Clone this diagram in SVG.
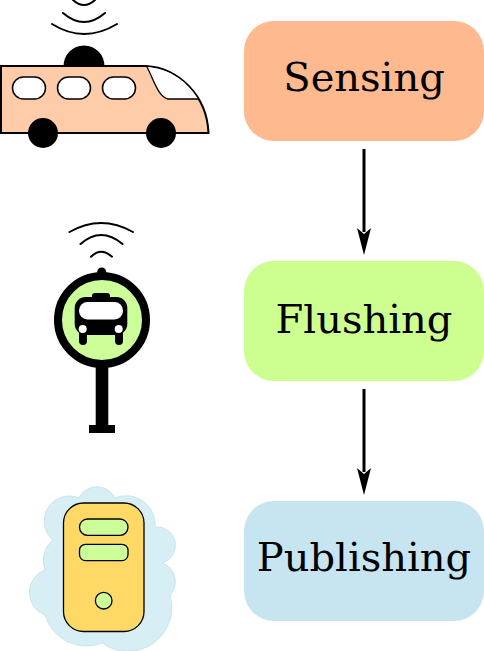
<svg xmlns="http://www.w3.org/2000/svg" width="484" height="651" viewBox="0 0 484 651">
<style>
.box{stroke:none}
.lbl{font-family:"DejaVu Serif",serif;font-size:40px;text-anchor:middle;fill:#000}
.wave{fill:none;stroke:#000;stroke-width:2;stroke-linecap:round}
.line{fill:none;stroke:#000;stroke-width:3}
.win{fill:#fff;stroke:#000;stroke-width:1.5}
.pill{fill:#ccff99;stroke:#000;stroke-width:1.3}
</style>
<g id="conns">
<path class="line" d="M364 149V232"/>
<path d="M357 228L364 234L371 228L364 255Z"/>
<path class="line" d="M364 389V472"/>
<path d="M357 468L364 474L371 468L364 495Z"/>
</g>
<g id="sensing"><rect class="box" x="244" y="21" width="240" height="120" rx="30" fill="#ffb98f"/><text class="lbl" x="364" y="91">Sensing</text></g>
<g id="flushing"><rect class="box" x="244" y="261" width="240" height="120" rx="30" fill="#ccff8f"/><text class="lbl" x="364" y="333">Flushing</text></g>
<g id="publishing"><rect class="box" x="244" y="501" width="240" height="120" rx="30" fill="#c7e5f0"/><text class="lbl" x="364" y="571">Publishing</text></g>
<g id="bus">
<path d="M73 0Q84 10 95 0M63 13Q84 31 105 13M52 24Q84 44 117 24" class="wave"/>
<path d="M63.500 66A20.500 20.500 0 0 1 104.500 66Z"/>
<path d="M1 66H146C178 68 207 95 208.500 133H1Z" fill="#ffccaa" stroke="#000" stroke-width="2"/>
<path d="M147 67C172 69 188 83 198 99H168C158 97 153 78 147 67Z" fill="#fff"/>
<path d="M147 67C153 78 158 97 168 99H198" fill="none" stroke="#000" stroke-width="1.300"/>
<rect class="win" x="12.500" y="77" width="33" height="22" rx="11"/>
<rect class="win" x="57.500" y="77" width="33" height="22" rx="11"/>
<rect class="win" x="102.500" y="77" width="33" height="22" rx="11"/>
<circle cx="43" cy="133" r="15"/><circle cx="161" cy="133" r="15"/>
</g>
<g id="stop">
<path d="M69.500 232Q101 214 133 232M80.500 244Q101 226 122.500 244M91 256.700Q101 246.700 112 256.700" class="wave"/>
<circle cx="101.700" cy="272" r="4.500"/>
<rect x="95.700" y="360" width="12.600" height="70"/>
<rect x="89" y="425" width="26" height="8"/>
<circle cx="102" cy="320" r="44" fill="#ccff99" stroke="#000" stroke-width="8"/>
<rect x="92" y="293" width="18" height="8" rx="3"/>
<rect x="74.700" y="297" width="52.600" height="38" rx="11"/>
<rect x="79" y="330" width="8" height="15" rx="4"/><rect x="115" y="330" width="8" height="15" rx="4"/>
<rect x="79" y="302" width="44" height="17.500" rx="8.500" fill="#fff"/>
<circle cx="82.700" cy="329" r="4" fill="#fff"/><circle cx="118.700" cy="329" r="4" fill="#fff"/>
</g>
<g id="server">
<path d="M79 498A20 20 0 0 1 115 498A29 29 0 0 1 155 527A18.400 18.400 0 0 1 162 563A19.600 19.600 0 0 1 170 595A44 44 0 0 1 102 643A43 43 0 0 1 45 615A24 24 0 0 1 45 570A26.500 26.500 0 0 1 53 540A25 25 0 0 1 79 498Z" fill="#d7eff4" stroke="#c7e5ec" stroke-width="1"/>
<rect x="63.500" y="503" width="80.500" height="128.500" rx="20" fill="#ffd966" stroke="#000" stroke-width="1.300"/>
<rect class="pill" x="79.500" y="519" width="48.500" height="16.300" rx="8"/>
<rect class="pill" x="79.500" y="544.300" width="48.500" height="16.300" rx="6"/>
<circle class="pill" cx="103.700" cy="600.700" r="8.300"/>
</g>
</svg>
